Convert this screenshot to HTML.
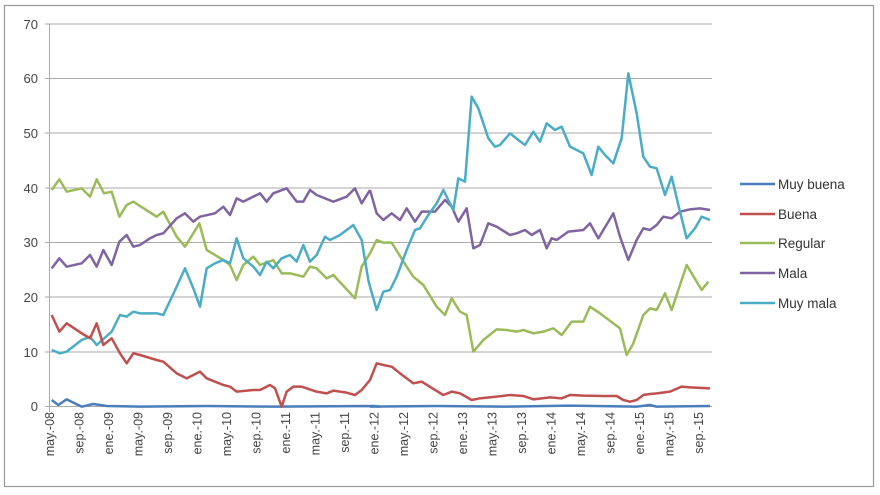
<!DOCTYPE html>
<html><head><meta charset="utf-8"><style>
html,body{margin:0;padding:0;background:#fff}
svg{display:block;font-family:"Liberation Sans",sans-serif}
</style></head><body>
<svg width="880" height="495" viewBox="0 0 880 495">
<rect x="4.5" y="5.5" width="869" height="481" fill="#fff" stroke="#999" stroke-width="1.2"/>
<g stroke="#aaa" stroke-width="1">
<line x1="45" y1="24" x2="712" y2="24"/><line x1="45" y1="78.5" x2="712" y2="78.5"/>
<line x1="45" y1="133" x2="712" y2="133"/><line x1="45" y1="188" x2="712" y2="188"/>
<line x1="45" y1="242.5" x2="712" y2="242.5"/><line x1="45" y1="297" x2="712" y2="297"/>
<line x1="45" y1="352" x2="712" y2="352"/><line x1="45" y1="406.5" x2="712" y2="406.5"/>
<line x1="49.5" y1="24" x2="49.5" y2="412"/>
</g>
<g fill="#444" font-size="13" text-anchor="end">
<text x="38" y="29">70</text><text x="38" y="83">60</text><text x="38" y="138">50</text>
<text x="38" y="193">40</text><text x="38" y="247">30</text><text x="38" y="302">20</text>
<text x="38" y="357">10</text><text x="38" y="411">0</text>
</g>
<g transform="translate(40,20) scale(0.33333)" fill="none" stroke-width="7.5" stroke-linejoin="round">
<polyline stroke="#4a7ebb" points="35,1140 55,1155 80,1138 100,1148 125,1160 160,1152 200,1158 300,1160 500,1158 700,1160 1000,1158 1020,1160"/>
<polyline stroke="#9bbb59" points="35,510 58,478 80,515 125,505 150,530 170,478 192,520 215,515 238,590 260,555 280,545 350,590 370,575 410,650 435,680 460,640 478,610 500,690 550,720 570,735 590,780 610,735 640,710 660,735 700,720 725,760 750,760 790,770 810,740 830,745 860,775 880,765 945,835 965,740 990,700"/>
<polyline stroke="#8064a2" points="35,745 58,715 80,740 125,730 150,705 170,740 190,690 215,735 238,665 260,645 280,680 300,675 330,655 350,645 370,640 410,595 435,580 460,605 480,590 525,580 550,560 570,585 590,535 610,545 640,530 660,520 680,545 700,520 740,505 770,545 790,545 810,510 830,525 880,545 920,530 945,505 965,550 990,510"/>
<polyline stroke="#4bacc6" points="35,990 60,1000 80,995 125,960 150,950 170,975 215,935 240,885 260,890 280,875 300,880 350,880 370,885 410,800 435,745 460,805 480,860 500,745 525,730 550,720 570,730 590,655 610,715 640,740 660,765 680,725 700,745 725,715 750,705 770,725 790,675 810,725 830,705 855,650 870,660 900,645 940,615 965,660 985,780 990,800"/>
<polyline stroke="#c0504d" points="35,885 58,935 80,910 125,940 150,955 170,910 190,975 215,955 240,1000 260,1030 280,1000 300,1005 350,1020 370,1025 410,1060 440,1075 460,1065 480,1055 500,1075 550,1095 570,1100 590,1115 640,1110 660,1110 690,1095 705,1105 725,1160 740,1115 760,1100 785,1100 830,1115 860,1120 880,1112 920,1118 945,1125 965,1110 990,1080"/>
</g>
<g transform="translate(370,20) scale(0.33333)" fill="none" stroke-width="7.5" stroke-linejoin="round">
<polyline stroke="#4a7ebb" points="0,1160 200,1158 400,1160 600,1157 800,1160 840,1155 860,1160 1020,1158"/>
<polyline stroke="#9bbb59" points="0,700 20,660 40,668 65,668 110,740 130,770 160,795 200,860 225,885 245,835 270,875 290,885 310,995 340,960 380,928 410,930 440,935 460,930 490,940 520,935 550,925 575,945 605,905 640,905 660,860 690,880 750,925 770,1005 790,970 820,885 840,865 860,870 885,820 905,870 950,735 995,810 1015,785"/>
<polyline stroke="#8064a2" points="0,510 20,580 40,600 65,580 90,600 110,565 135,605 155,575 195,575 225,540 245,560 265,605 290,565 310,685 330,675 355,610 380,620 420,645 440,640 465,630 485,645 510,630 530,685 545,655 560,660 595,635 640,630 660,610 685,655 730,580 750,650 775,720 800,660 820,625 840,630 860,615 880,590 905,595 930,575 960,568 990,565 1020,570"/>
<polyline stroke="#4bacc6" points="0,800 20,870 40,815 60,810 80,770 110,690 135,630 150,625 175,585 200,550 220,510 235,540 250,570 265,475 285,485 305,230 325,265 355,355 375,380 390,375 420,340 445,360 465,375 490,335 510,365 530,310 555,330 575,320 600,380 620,390 640,400 665,465 685,380 705,405 730,430 755,355 775,160 800,280 820,410 840,440 860,445 885,525 905,470 925,555 950,655 975,625 995,590 1020,600"/>
<polyline stroke="#c0504d" points="0,1080 20,1030 40,1035 65,1040 90,1060 110,1075 130,1090 155,1085 195,1110 220,1125 245,1115 270,1120 305,1140 330,1135 380,1130 420,1125 460,1128 490,1138 540,1132 575,1135 600,1125 640,1127 700,1128 740,1128 760,1140 780,1145 800,1140 820,1125 840,1122 860,1120 900,1115 935,1100 960,1102 1020,1105"/>
</g>
<g stroke-width="2.5">
<line x1="740" y1="184" x2="775" y2="184" stroke="#4a7ebb"/>
<line x1="740" y1="214" x2="775" y2="214" stroke="#c0504d"/>
<line x1="740" y1="243" x2="775" y2="243" stroke="#9bbb59"/>
<line x1="740" y1="273" x2="775" y2="273" stroke="#8064a2"/>
<line x1="740" y1="303" x2="775" y2="303" stroke="#4bacc6"/>
</g>
<g fill="#333" font-size="13.5">
<text x="778" y="189">Muy buena</text><text x="778" y="219">Buena</text>
<text x="778" y="248">Regular</text><text x="778" y="278">Mala</text>
<text x="778" y="308">Muy mala</text>
</g>
<g fill="#444" font-size="12.5" text-anchor="end">
<text transform="translate(54,412) rotate(-90)">may.-08</text>
<text transform="translate(83.5,412) rotate(-90)">sep.-08</text>
<text transform="translate(113,412) rotate(-90)">ene.-09</text>
<text transform="translate(142.5,412) rotate(-90)">may.-09</text>
<text transform="translate(172,412) rotate(-90)">sep.-09</text>
<text transform="translate(201.5,412) rotate(-90)">ene.-10</text>
<text transform="translate(231,412) rotate(-90)">may.-10</text>
<text transform="translate(260.5,412) rotate(-90)">sep.-10</text>
<text transform="translate(290,412) rotate(-90)">ene.-11</text>
<text transform="translate(319.5,412) rotate(-90)">may.-11</text>
<text transform="translate(349,412) rotate(-90)">sep.-11</text>
<text transform="translate(378.5,412) rotate(-90)">ene.-12</text>
<text transform="translate(408,412) rotate(-90)">may.-12</text>
<text transform="translate(437.5,412) rotate(-90)">sep.-12</text>
<text transform="translate(467,412) rotate(-90)">ene.-13</text>
<text transform="translate(496.5,412) rotate(-90)">may.-13</text>
<text transform="translate(526,412) rotate(-90)">sep.-13</text>
<text transform="translate(555.5,412) rotate(-90)">ene.-14</text>
<text transform="translate(585,412) rotate(-90)">may.-14</text>
<text transform="translate(614.5,412) rotate(-90)">sep.-14</text>
<text transform="translate(644,412) rotate(-90)">ene.-15</text>
<text transform="translate(673.5,412) rotate(-90)">may.-15</text>
<text transform="translate(703,412) rotate(-90)">sep.-15</text>
</g>
</svg>
</body></html>
